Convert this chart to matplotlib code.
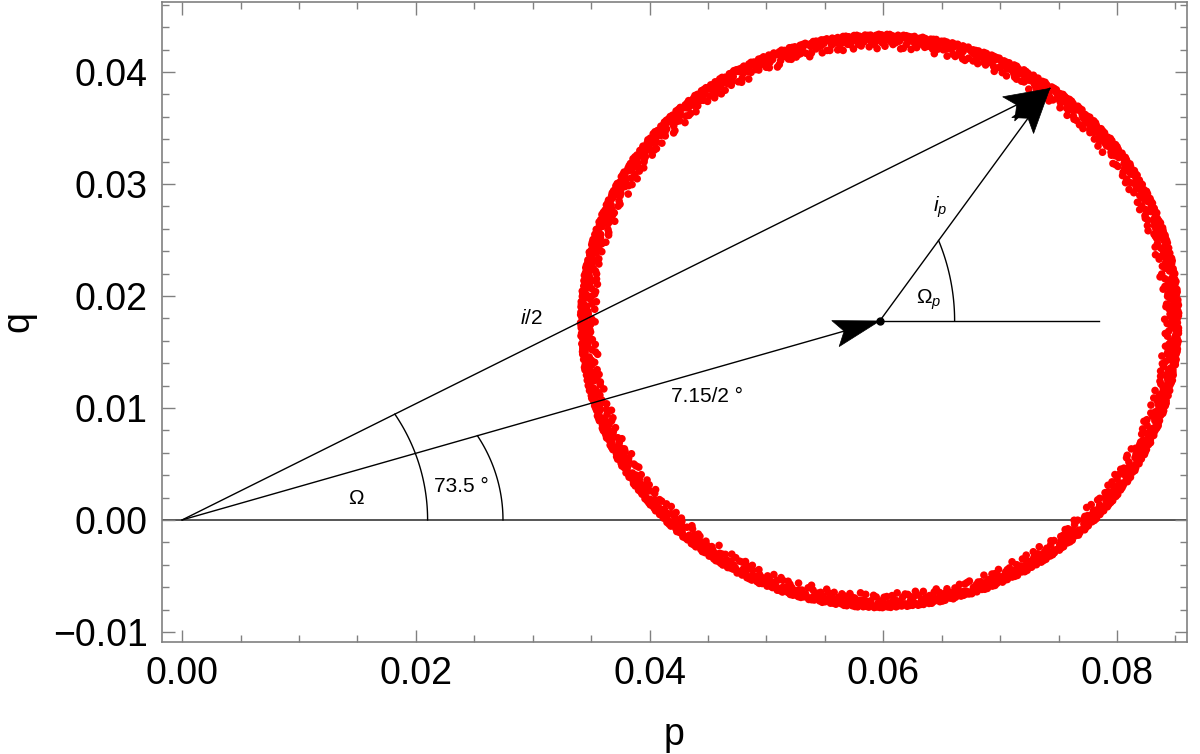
import numpy as np
import matplotlib
matplotlib.use("Agg")
import matplotlib.pyplot as plt
from matplotlib.patches import Polygon

plt.rcParams['font.family'] = ['Liberation Sans', 'DejaVu Sans']
plt.rcParams['mathtext.fontset'] = 'custom'
plt.rcParams['mathtext.rm'] = 'Liberation Sans'
plt.rcParams['mathtext.it'] = 'Liberation Sans:italic'

# axis ticks
x_ticks = [0.00, 0.02, 0.04, 0.06, 0.08]
x_labels = ['0.00', '0.02', '0.04', '0.06', '0.08']
y_ticks = [-0.01, 0.00, 0.01, 0.02, 0.03, 0.04]
y_labels = ['\u22120.01', '0.00', '0.01', '0.02', '0.03', '0.04']

# ring of points (p, q): centre, radial band, number of points
ring_center = (0.0597, 0.01777)
ring_r_outer = 0.0256
ring_r_inner = 0.0243
ring_n = 1600

# geometric construction
origin = (0.0, 0.0)
center = (0.0597, 0.01777)
tip = (0.07426, 0.03854)
hline_end = (0.07845, 0.01777)

# arcs: (arc centre, radius)
arc_inner = ((0.00368, 0.0), 0.01733)
arc_outer = ((0.01343, 0.0), 0.01403)
arc_omp = ((0.0466, 0.01777), 0.01951)

# labels
labels = [
    (0.01495, 0.00190, r'$\Omega$'),
    (0.02393, 0.00300, '73.5 \u00b0'),
    (0.02990, 0.01800, r'$\mathit{i}$/2'),
    (0.04490, 0.01100, '7.15/2 \u00b0'),
    (0.06490, 0.02790, r'$\mathit{i}_{\mathit{p}}$'),
    (0.06390, 0.01964, r'$\Omega_{\mathit{p}}$'),
]


def halton(n, base):
    out = np.zeros(n)
    for i in range(n):
        f, r, j = 1.0, 0.0, i + 1
        while j > 0:
            f /= base
            r += f * (j % base)
            j //= base
        out[i] = r
    return out


fig = plt.figure(figsize=(12, 7.54), dpi=100)
ax = fig.add_axes([0.1348, 0.149, 0.8544, 0.849])
ax.set_xlim(-0.00174, 0.0860)
ax.set_ylim(-0.01087, 0.0463)

# ring points, spread evenly with a Halton sequence
ang = 2 * np.pi * halton(ring_n, 2)
u = halton(ring_n, 3)
rad = ring_r_outer - (ring_r_outer - ring_r_inner) * u ** 2.0
px = ring_center[0] + rad * np.cos(ang)
py = ring_center[1] + rad * np.sin(ang)
ax.scatter(px, py, s=30, c='#ff0000', edgecolors='none', zorder=2)

# q = 0 axis
ax.axhline(0, color='#555555', lw=1.4, zorder=1)

lw = 1.0
ax.plot([origin[0], tip[0]], [origin[1], tip[1]], color='k', lw=lw, zorder=3)
ax.plot([origin[0], center[0]], [origin[1], center[1]], color='k', lw=lw, zorder=3)
ax.plot([center[0], tip[0]], [center[1], tip[1]], color='k', lw=lw, zorder=3)
ax.plot([center[0], hline_end[0]], [center[1], hline_end[1]], color='k', lw=lw, zorder=3)
ax.plot([center[0]], [center[1]], 'o', color='k', ms=5, zorder=4)


def arc_to_line(arc, a, b):
    (cx, cy), r = arc
    a = np.array(a); b = np.array(b)
    d = b - a
    f = a - np.array([cx, cy])
    A = d @ d; B = 2 * f @ d; Cc = f @ f - r * r
    disc = np.sqrt(B * B - 4 * A * Cc)
    t = max((-B - disc) / (2 * A), (-B + disc) / (2 * A))
    p = a + t * d
    th_end = np.arctan2(p[1] - cy, p[0] - cx)
    th = np.linspace(0, th_end, 60)
    ax.plot(cx + r * np.cos(th), cy + r * np.sin(th), color='k', lw=lw, zorder=3)


arc_to_line(arc_inner, origin, tip)
arc_to_line(arc_outer, origin, center)
arc_to_line(arc_omp, center, tip)


def head(tail, end, L=46, W=27, notch=9):
    p0 = ax.transData.transform(tail)
    p1 = ax.transData.transform(end)
    d = (p1 - p0) / np.hypot(*(p1 - p0))
    n = np.array([-d[1], d[0]])
    pts = [p1, p1 - L * d + W / 2 * n, p1 - (L - notch) * d, p1 - L * d - W / 2 * n]
    ax.add_patch(Polygon(ax.transData.inverted().transform(pts), closed=True,
                         fc='k', ec='k', lw=0.5, zorder=4))


head(origin, center)
head(origin, tip)
head(center, tip)

for x, y, s in labels:
    ax.text(x, y, s, fontsize=15, ha='center', va='center', zorder=5)

ax.set_xticks(x_ticks)
ax.set_xticklabels(x_labels)
ax.set_yticks(y_ticks)
ax.set_yticklabels(y_labels)
ax.set_xticks(np.arange(-0.0, 0.0876, 0.005), minor=True)
ax.set_yticks(np.arange(-0.010, 0.0461, 0.002), minor=True)
ax.tick_params(which='both', direction='in', top=True, right=True, color='#808080',
               labelsize=27, width=1.0)
ax.tick_params(which='major', length=9, pad=10)
ax.tick_params(which='minor', length=5)
for sp in ax.spines.values():
    sp.set_color('#808080')
    sp.set_linewidth(1.2)

ax.set_xlabel('p', fontsize=27, labelpad=18)
ax.set_ylabel('q', fontsize=27, labelpad=12)

fig.savefig('out.png', dpi=100)
